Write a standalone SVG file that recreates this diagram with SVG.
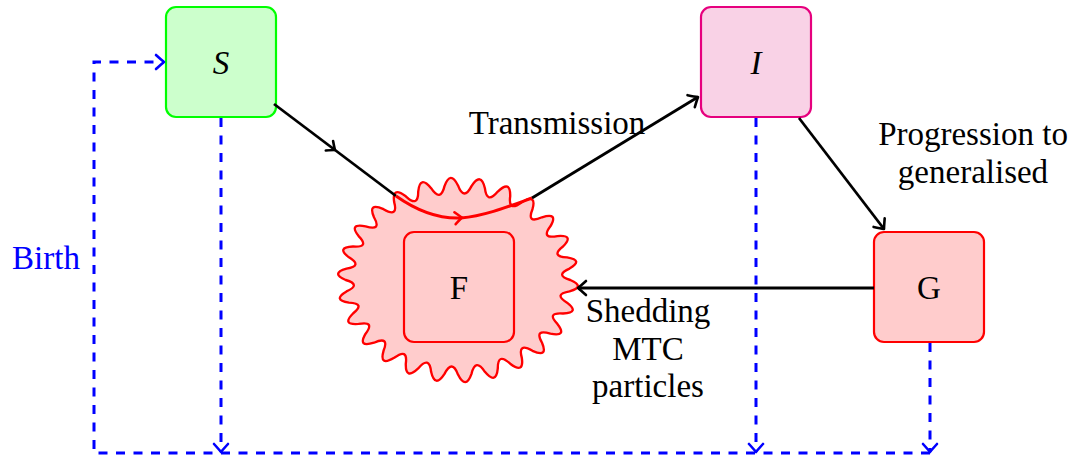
<svg xmlns="http://www.w3.org/2000/svg" width="1084" height="462" viewBox="0 0 1084 462" font-family="'Liberation Serif', 'DejaVu Serif', 'Times New Roman', serif">
  <style>
    text { font-family: "Liberation Serif", "DejaVu Serif", "Times New Roman", serif; font-size: 33px; text-anchor: middle; fill: #000; }
    .math { font-style: italic; }
    .box { stroke-width: 2.2; }
    .edge { fill: none; stroke: #000; stroke-width: 2.8; }
    .flow { fill: none; stroke: #0000ff; stroke-width: 3; stroke-dasharray: 9 8.5; }
    .head { fill: none; stroke-width: 2.6; stroke-linecap: round; stroke-linejoin: round; }
  </style>
  <defs>
    <marker id="toBlack" viewBox="-10 -9 12 18" markerWidth="12" markerHeight="18" refX="0" refY="0" orient="auto" markerUnits="userSpaceOnUse" overflow="visible">
      <path class="head" stroke="#000" d="M-8,-7 Q-2.5,-2 0,0 Q-2.5,2 -8,7"/>
    </marker>
    <marker id="toBlue" viewBox="-10 -9 12 18" markerWidth="12" markerHeight="18" refX="0" refY="0" orient="auto" markerUnits="userSpaceOnUse" overflow="visible">
      <path class="head" stroke="#0000ff" d="M-8,-7 Q-2.5,-2 0,0 Q-2.5,2 -8,7"/>
    </marker>
  </defs>

  <!-- F: reservoir with wavy outline -->
  <g id="node-F">
    <path transform="translate(458,280) scale(0.985)" fill="#ffcccc" stroke="#ff0000" stroke-width="2.4" stroke-linejoin="round"
      d="M114,0 Q129.8,6.8 113.2,11.6 Q96.4,14.4 110.7,23 Q124.1,33.3 106.6,34 Q89.4,32.8 100.9,44.6 Q111.3,57.9 93.8,54.5 Q77.1,49.3 85.3,63.7 Q91.9,79.2 75.6,71.9 Q60.4,63 64.8,79 Q67.3,95.8 53,85 Q40.2,73 40.4,89.8 Q38.7,106.9 27.3,93.2 Q17.7,78.7 13.7,95.3 Q7.8,111.8 0,96 Q-5.9,79.9 -13.7,95.3 Q-23.4,110.2 -27.3,93.2 Q-29.2,76.4 -40.4,89.8 Q-53.4,102.1 -53,85 Q-50.7,68.5 -64.8,79 Q-80.2,88.2 -75.6,71.9 Q-69.3,56.6 -85.3,63.7 Q-102.3,69.1 -93.8,54.5 Q-83.9,41.4 -100.9,44.6 Q-118.5,46 -106.6,34 Q-93.6,23.8 -110.7,23 Q-127.9,20.2 -113.2,11.6 Q-97.8,4.8 -114,0 Q-129.8,-6.8 -113.2,-11.6 Q-96.4,-14.4 -110.7,-23 Q-124.1,-33.3 -106.6,-34 Q-89.4,-32.8 -100.9,-44.6 Q-111.3,-57.9 -93.8,-54.5 Q-77.1,-49.3 -85.3,-63.7 Q-91.9,-79.2 -75.6,-71.9 Q-60.4,-63 -64.8,-79 Q-67.3,-95.8 -53,-85 Q-40.2,-73 -40.4,-89.8 Q-38.7,-106.9 -27.3,-93.2 Q-17.7,-78.7 -13.7,-95.3 Q-7.8,-111.8 0,-96 Q5.9,-79.9 13.7,-95.3 Q23.4,-110.2 27.3,-93.2 Q29.2,-76.4 40.4,-89.8 Q53.4,-102.1 53,-85 Q50.7,-68.5 64.8,-79 Q80.2,-88.2 75.6,-71.9 Q69.3,-56.6 85.3,-63.7 Q102.3,-69.1 93.8,-54.5 Q83.9,-41.4 100.9,-44.6 Q118.5,-46 106.6,-34 Q93.6,-23.8 110.7,-23 Q127.9,-20.2 113.2,-11.6 Q97.8,-4.8 114,0 Z"/>
    <rect class="box" x="404" y="232" width="110" height="110" rx="10" fill="#ffcccc" stroke="#ff0000"/>
    <text x="459" y="299">F</text>
  </g>

  <g id="node-S">
    <rect class="box" x="166" y="7" width="110" height="110" rx="10" fill="#ccffcc" stroke="#00ff00"/>
    <text class="math" x="221" y="74">S</text>
  </g>

  <g id="node-I">
    <rect class="box" x="701" y="7" width="110" height="110" rx="10" fill="#f9d2e6" stroke="#e6007e"/>
    <text class="math" x="756" y="74">I</text>
  </g>

  <g id="node-G">
    <rect class="box" x="874" y="232" width="110" height="110" rx="10" fill="#ffcccc" stroke="#ff0000"/>
    <text x="929" y="299">G</text>
  </g>

  <g id="connectors">
    <!-- transmission route S -> F -> I -->
    <path class="edge" d="M274,104 L396,196"/>
    <path class="head" stroke="#000" transform="translate(335,150) rotate(37.5)" d="M-7,-6 Q-2,-1.5 0,0 Q-2,1.5 -7,6"/>
    <path fill="none" stroke="#ff0000" stroke-width="3" d="M396,196 C420,213 440,219 461,218 C485,216 510,206 532,198"/>
    <path class="head" stroke="#ff0000" transform="translate(462,217.5) rotate(-6)" d="M-7,-6 Q-2,-1.5 0,0 Q-2,1.5 -7,6"/>
    <path class="edge" d="M532,198 L698,97" marker-end="url(#toBlack)"/>
    <!-- progression I -> G -->
    <path class="edge" d="M799,118 L884,229" marker-end="url(#toBlack)"/>
    <!-- shedding G -> F -->
    <path class="edge" d="M874,288 L578,288" marker-end="url(#toBlack)"/>

    <!-- births and deaths -->
    <path class="flow" d="M930,453 H94 V62 H164" marker-end="url(#toBlue)"/>
    <path class="flow" d="M221,118 V452" marker-end="url(#toBlue)"/>
    <path class="flow" d="M756,118 V452" marker-end="url(#toBlue)"/>
    <path class="flow" d="M930,343 V452" marker-end="url(#toBlue)"/>

    <text x="557" y="134">Transmission</text>
    <text x="973" y="145">Progression to</text>
    <text x="973" y="183">generalised</text>
    <text x="648" y="322">Shedding</text>
    <text x="648" y="360">MTC</text>
    <text x="648" y="397">particles</text>
    <text x="46" y="269" style="fill:#0000ff">Birth</text>
  </g>
</svg>
